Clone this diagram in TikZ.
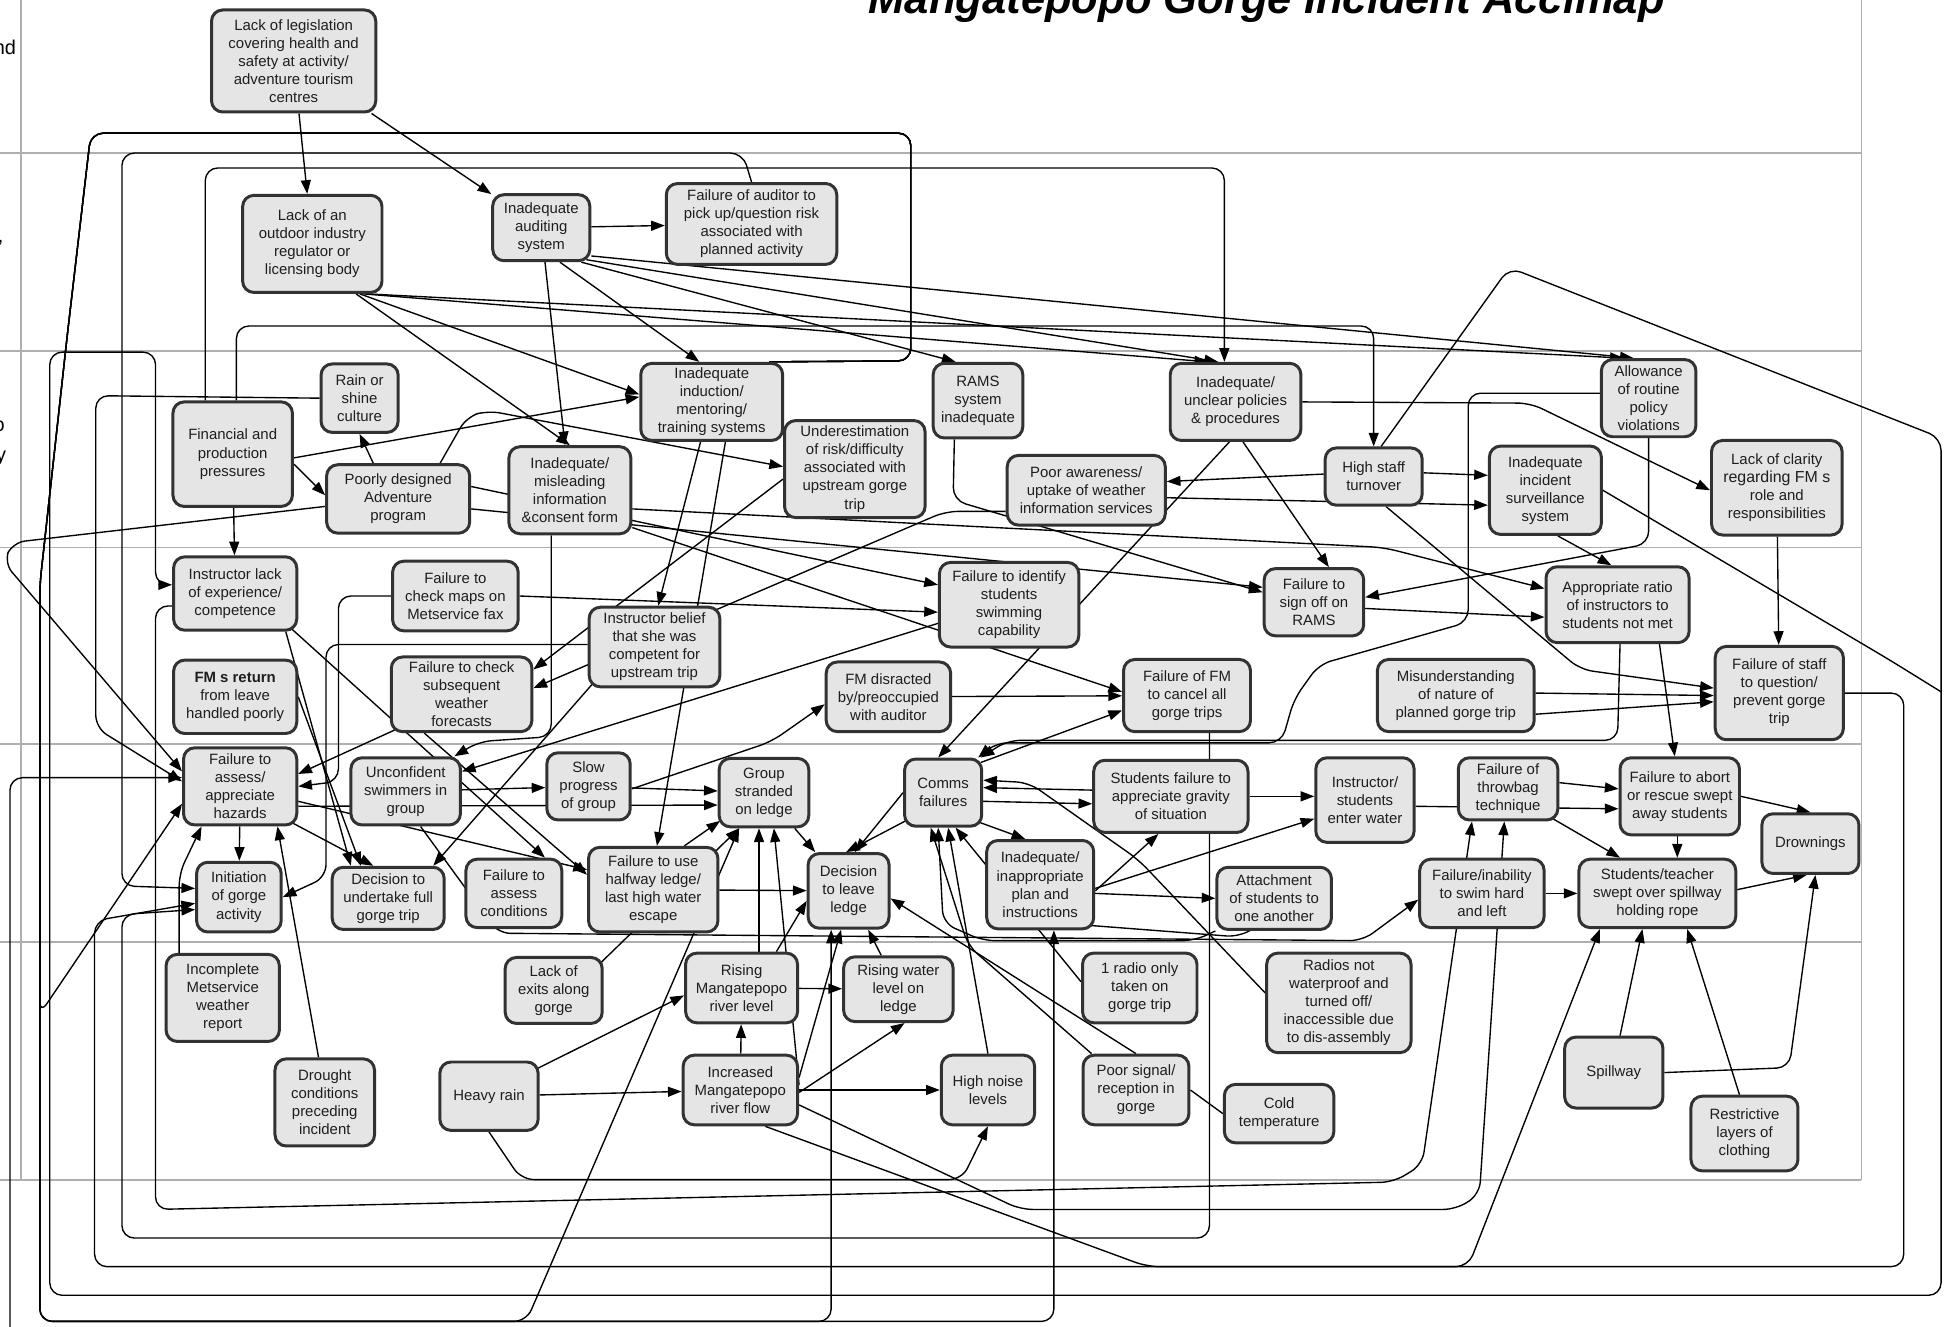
\documentclass[tikz,border=0pt]{standalone}
\usepackage{fontspec}
\setmainfont{Liberation Sans}
\usetikzlibrary{arrows.meta,calc}
\definecolor{boxline}{RGB}{50,50,50}
\definecolor{boxfill}{RGB}{229,229,229}
\definecolor{bandgray}{RGB}{175,175,175}
\definecolor{inktext}{RGB}{30,30,30}
\pgfdeclarelayer{edges}
\pgfsetlayers{edges,main}
\newcommand{\bnode}[6]{\node[box,minimum width=#4pt,minimum height=#5pt] (#1) at (#2,#3) {#6};}
\begin{document}
\begin{tikzpicture}[x=1pt,y=-1pt,
  box/.style={draw=boxline,line width=2.4pt,fill=boxfill,rounded corners=9pt,align=center,inner sep=2pt,text=inktext,font=\fontsize{12}{14.5}\selectfont},
  wire/.style={line width=1.1pt,rounded corners=10pt},
  arr/.style={wire,-{Triangle[length=11pt,width=8pt]}},
  band/.style={draw=bandgray,line width=1.5pt},
  levellabel/.style={anchor=base east,inner sep=0pt,font=\fontsize{16}{16}\selectfont}]
\useasboundingbox (0,0) rectangle (1568,1066);
\clip (0,0) rectangle (1568,1066);

% ---------- title and level labels (labels run off the left margin) ----------
\node[anchor=base,font=\fontsize{35}{35}\selectfont\bfseries\itshape] (title) at (1018,10.5) {Mangatepopo Gorge Incident Accimap};
\node[levellabel] (lab1) at (13,44) {and};
\node[levellabel] (lab2) at (3,195) {,};
\node[levellabel] (lab3) at (4,347) {o};
\node[levellabel] (lab4) at (5,371) {y};

% ---------- factors ----------
\bnode{L1}{236}{49}{132}{82}{Lack of legislation\\covering health and\\safety at activity/\\adventure tourism\\centres}
\bnode{regul}{251}{196}{112}{78}{Lack of an\\outdoor industry\\regulator or\\licensing body}
\bnode{audit}{435}{183}{78}{53}{Inadequate\\auditing\\system}
\bnode{failaud}{604}{180}{137}{65}{Failure of auditor to\\pick up/question risk\\associated with\\planned activity}
\bnode{rain}{289}{320}{62}{55}{Rain or\\shine\\culture}
\bnode{fin}{187}{365}{96}{84}{Financial and\\production\\pressures}
\bnode{induct}{572}{323}{114}{62}{Inadequate\\induction/\\mentoring/\\training systems}
\bnode{rams}{786}{322}{72}{60}{RAMS\\system\\inadequate}
\bnode{policies}{993}{323}{105}{62}{Inadequate/\\unclear policies\\\& procedures}
\bnode{allow}{1325}{320}{76}{62}{Allowance\\of routine\\policy\\violations}
\bnode{poorly}{320}{401}{115}{55}{Poorly designed\\Adventure\\program}
\bnode{misinfo}{458}{394}{98}{70}{Inadequate/\\misleading\\information\\\&consent form}
\bnode{underest}{687}{377}{113}{78}{Underestimation\\of risk/difficulty\\associated with\\upstream gorge\\trip}
\bnode{awareness}{873}{394}{127}{56}{Poor awareness/\\uptake of weather\\information services}
\bnode{turnover}{1104}{383}{78}{46}{High staff\\turnover}
\bnode{surv}{1242}{394}{90}{71}{Inadequate\\incident\\surveillance\\system}
\bnode{clarity}{1428}{392}{105}{76}{Lack of clarity\\{\fontsize{12.8}{14.5}\selectfont regarding FM s}\\role and\\responsibilities}
\bnode{instr}{189}{477}{99}{59}{Instructor lack\\of experience/\\competence}
\bnode{checkmaps}{366}{479}{101}{56}{Failure to\\check maps on\\Metservice fax}
\bnode{identify}{811}{486}{112}{68}{Failure to identify\\students\\swimming\\capability}
\bnode{signoff}{1056}{484}{80}{54}{Failure to\\sign off on\\RAMS}
\bnode{ratio}{1300}{486}{115}{61}{Appropriate ratio\\of instructors to\\students not met}
\bnode{belief}{526}{520}{105}{64}{Instructor belief\\that she was\\competent for\\upstream trip}
\bnode{fmreturn}{189}{560}{99}{59}{{\bfseries FM s return}\\from leave\\handled poorly}
\bnode{checksub}{371}{558}{113}{60}{Failure to check\\subsequent\\weather\\forecasts}
\bnode{distract}{714}{560}{100}{56}{FM disracted\\by/preoccupied\\with auditor}
\bnode{cancel}{954}{559}{102}{58}{Failure of FM\\to cancel all\\gorge trips}
\bnode{misunder}{1170}{559}{126}{58}{Misunderstanding\\of nature of\\planned gorge trip}
\bnode{question}{1430}{557}{103}{75}{Failure of staff\\to question/\\prevent gorge\\trip}
\bnode{assess}{193}{632}{91}{62}{Failure to\\assess/\\appreciate\\hazards}
\bnode{unconf}{326}{636}{88}{54}{Unconfident\\swimmers in\\group}
\bnode{slow}{473}{632}{67}{54}{Slow\\progress\\of group}
\bnode{stranded}{614}{637}{72}{55}{Group\\stranded\\on ledge}
\bnode{comms}{758}{637}{62}{54}{Comms\\failures}
\bnode{gravity}{941}{640}{124}{58}{Students failure to\\appreciate gravity\\of situation}
\bnode{enter}{1097}{643}{79}{68}{Instructor/\\students\\enter water}
\bnode{throwbag}{1212}{634}{80}{50}{Failure of\\throwbag\\technique}
\bnode{abort}{1350}{640}{96}{62}{Failure to abort\\or rescue swept\\away students}
\bnode{drown}{1455}{678}{78}{48}{Drownings}
\bnode{initiation}{192}{721}{68}{56}{Initiation\\of gorge\\activity}
\bnode{decfull}{312}{722}{90}{50}{Decision to\\undertake full\\gorge trip}
\bnode{assesscond}{413}{718}{77}{55}{Failure to\\assess\\conditions}
\bnode{halfway}{525}{715}{104}{68}{Failure to use\\halfway ledge/\\last high water\\escape}
\bnode{leave}{682}{716}{65}{60}{Decision\\to leave\\ledge}
\bnode{inapp}{836}{711}{86}{71}{Inadequate/\\inappropriate\\plan and\\instructions}
\bnode{attach}{1024}{722}{92}{50}{Attachment\\of students to\\one another}
\bnode{swimhard}{1191}{718}{100}{55}{Failure/inability\\to swim hard\\and left}
\bnode{swept}{1332}{718}{126}{55}{Students/teacher\\swept over spillway\\holding rope}
\bnode{metrep}{179}{802}{91}{70}{Incomplete\\Metservice\\weather\\report}
\bnode{drought}{261}{886}{80}{70}{Drought\\conditions\\preceding\\incident}
\bnode{exits}{445}{796}{78}{53}{Lack of\\exits along\\gorge}
\bnode{risingriver}{596}{794}{90}{56}{Rising\\Mangatepopo\\river level}
\bnode{risingledge}{722}{795}{88}{52}{Rising water\\level on\\ledge}
\bnode{radio1}{916}{794}{92}{56}{1 radio only\\taken on\\gorge trip}
\bnode{radiosnot}{1076}{806}{116}{80}{Radios not\\waterproof and\\turned off/\\inaccessible due\\to dis-assembly}
\bnode{heavy}{393}{881}{79}{55}{Heavy rain}
\bnode{increased}{595}{876}{92}{56}{Increased\\Mangatepopo\\river flow}
\bnode{noise}{794}{876}{75}{56}{High noise\\levels}
\bnode{poorsignal}{913}{876}{85}{56}{Poor signal/\\reception in\\gorge}
\bnode{cold}{1028}{895}{88}{47}{Cold\\temperature}
\bnode{spillway}{1297}{862}{79}{57}{Spillway}
\bnode{restrict}{1402}{911}{86}{60}{Restrictive\\layers of\\clothing}

\coordinate (offbottom) at (8,1090);
\coordinate (survjoin) at (1560,556);

\begin{pgfonlayer}{edges}
% ---------- level bands ----------
\foreach \yy in {123,282,440,598,757,948} \draw[band] (0,\yy) -- (1496,\yy);
\draw[band] (17,0) -- (17,948);
\draw[band] (1496,0) -- (1496,948);

% ---------- government / regulators ----------
\draw[arr] (L1) -- (regul);
\draw[arr] (L1) -- (audit);
\draw[arr] (audit) -- (failaud);
\draw[arr] (audit) -- (misinfo);
\draw[arr] ($(audit.south)+(15,0)$) -- ($(induct.north)+(-10,0)$);
\draw[arr] ($(audit.south east)+(-8,0)$) -- ($(rams.north)+(-18,0)$);
\draw[arr] ($(audit.south east)+(-4,-2)$) -- ($(policies.north)+(-14,0)$);
\draw[arr] ($(audit.south east)+(0,-5)$) -- ($(allow.north)+(-12,0)$);
\draw[arr] ($(regul.south east)+(-22,0)$) -- (misinfo.north);
\draw[arr] ($(regul.south east)+(-19,0)$) -- ($(induct.west)+(0,-6)$);
\draw[arr] ($(regul.south east)+(-16,0)$) -- ($(policies.north)+(-22,0)$);
\draw[arr] ($(regul.south east)+(-13,0)$) -- ($(allow.north)+(-20,0)$);

% ---------- company ----------
\draw[arr] ($(fin.north)+(-22,0)$) -- (165,135) -- (984,135) -- ($(policies.north)+(-9,0)$);
\draw[arr] ($(fin.north)+(3,0)$) -- (190,262) -- (1104,262) -- (turnover.north);
\draw[arr] ($(fin.east)+(0,3)$) -- ($(induct.west)+(0,-4)$);
\draw[arr] ($(fin.east)+(0,8)$) -- ($(poorly.west)+(0,-3)$);
\draw[arr] (fin) -- (instr);
\draw[arr] ($(poorly.north)+(-20,0)$) -- (rain.south);
\draw[arr] ($(poorly.north east)+(-25,0)$) -- (375,335) -- (392,330) -- ($(underest.west)+(0,-2)$);
\draw[arr] ($(poorly.east)+(0,-10)$) -- ($(identify.west)+(0,-16)$);
\draw[arr] ($(poorly.east)+(0,8)$) -- ($(signoff.west)+(0,-12)$);
\draw[arr] ($(poorly.west)+(0,6)$) -- (10,436) -- (3,452) -- ($(assess.west)+(0,-12)$);
\draw[arr] ($(misinfo.east)+(0,30)$) -- ($(cancel.west)+(0,-3)$);
\draw[arr] ($(misinfo.east)+(0,15)$) -- (1112,440) -- ($(ratio.west)+(0,-13)$);
\draw[arr] ($(misinfo.south)+(-15,0)$) -- (443,592) -- (385,596) -- ($(unconf.north east)+(-6,0)$);
\draw[arr] (rain.west) -- (77,318) -- (77,585) -- ($(assess.west)+(0,-4)$);
\draw[arr] ($(rams.south)+(-19,0)$) -- (766,402) -- ($(signoff.west)+(0,-8)$);
\draw[arr] ($(policies.south)+(6,0)$) -- ($(signoff.north)+(12,0)$);
\draw[arr] (policies.east) -- (1230,324) -- ($(clarity.west)+(0,2)$);
\draw[arr] ($(policies.south)+(-5,0)$) -- ($(comms.north)+(-4,0)$);
\draw[arr] (allow.south) -- (1325,437) -- ($(signoff.east)+(0,-4)$);
\draw[arr] ($(allow.west)+(0,-4)$) -- (1180,316) -- (1180,500) -- (1060,534) -- (1040,562) -- (1030,597) -- (800,597) -- ($(comms.north east)+(-4,0)$);
\draw[arr] ($(turnover.east)+(0,-3)$) -- ($(surv.west)+(0,-12)$);
\draw[arr] ($(turnover.west)+(0,-2)$) -- ($(awareness.east)+(0,-7)$);
\draw[arr] ($(awareness.east)+(0,6)$) -- ($(surv.west)+(0,12)$);
\draw[arr] ($(turnover.south)+(10,0)$) -- (1270,538) -- ($(question.west)+(0,-4)$);
\draw[arr] ($(turnover.north)+(6,0)$) -- (1213,215) -- (1560,352) -- (1560,1041) -- (40,1041) -- (40,283) -- (125,283) -- (125,470) -- ($(instr.west)+(0,-7)$);
\draw[wire] (surv.east) -- (1518,530) -- (survjoin);
\draw[arr] ($(surv.south)+(10,0)$) -- ($(ratio.north)+(-5,0)$);
\draw[arr] (clarity) -- (question);
\draw[arr] ($(misunder.east)+(0,-2)$) -- ($(question.west)+(0,2)$);
\draw[arr] ($(misunder.east)+(0,15)$) -- ($(question.west)+(0,7)$);
\draw[arr] ($(signoff.east)+(0,5)$) -- ($(ratio.west)+(0,10)$);
\draw[arr] ($(ratio.south)+(2,0)$) -- (1300,595) -- (810,595) -- ($(comms.north east)+(-2,0)$);
\draw[arr] ($(ratio.south east)+(-25,0)$) -- ($(abort.north)+(-4,0)$);
\draw[arr] (question.east) -- (1530,557) -- (1530,1018) -- (76,1018) -- (76,740) -- ($(initiation.west)+(0,5)$);

% ---------- supervisory ----------
\draw[arr] (failaud.north) -- (597,123) -- (98,123) -- (98,712) -- ($(initiation.west)+(0,-7)$);
\draw[arr] ($(cancel.south)+(18,0)$) -- (972,995) -- (98,995) -- (98,735) -- ($(initiation.west)+(0,10)$);
\draw[arr] (checkmaps.east) -- ($(identify.west)+(0,6)$);
\draw[arr] (checkmaps.west) -- (272,479) -- (272,628) -- (assess.east);
\draw[arr] ($(belief.west)+(0,-2)$) -- (262,518) -- (262,705) -- (initiation.east);
\draw[arr] ($(belief.south west)+(6,-6)$) -- ($(decfull.north east)+(-10,0)$);
\draw[arr] ($(induct.south)+(-9,0)$) -- ($(belief.north)+(3,0)$);
\draw[arr] ($(induct.south)+(11,0)$) -- ($(halfway.north)+(3,0)$);
\draw[arr] ($(underest.west)+(0,8)$) -- ($(checksub.east)+(0,-20)$);
\draw[arr] ($(awareness.west)+(0,17)$) -- (760,411) -- ($(checksub.east)+(0,-5)$);
\draw[arr] ($(identify.west)+(0,15)$) -- ($(unconf.east)+(0,-16)$);
\draw[arr] ($(checksub.south west)+(5,-3)$) -- ($(assess.east)+(0,-10)$);
\draw[arr] ($(checksub.south)+(-30,0)$) -- ($(halfway.west)+(0,-12)$);
\draw[arr] ($(instr.south east)+(-5,-2)$) -- ($(assesscond.north)+(25,0)$);
\draw[arr] ($(instr.south east)+(-10,0)$) -- ($(decfull.north)+(-30,0)$);
\draw[arr] (fmreturn.east) -- ($(decfull.north)+(-22,0)$);
\draw[arr] (distract) -- (cancel);
\draw[arr] ($(slow.east)+(0,2)$) -- (620,596) -- ($(distract.west)+(0,6)$);
\draw[arr] ($(comms.north east)+(-2,4)$) -- ($(cancel.west)+(0,12)$);

% ---------- physical process ----------
\draw[arr] (assess) -- (initiation);
\draw[arr] ($(assess.south east)+(-5,-3)$) -- ($(decfull.north)+(-12,0)$);
\draw[arr] ($(assess.east)+(0,12)$) -- ($(halfway.west)+(0,-16)$);
\draw[arr] ($(assess.east)+(0,16)$) -- ($(stranded.west)+(0,10)$);
\draw[arr] (unconf) -- (slow);
\draw[arr] (slow) -- (stranded);
\draw[arr] ($(halfway.north)+(25,0)$) -- ($(stranded.south west)+(2,-6)$);
\draw[arr] (halfway) -- (leave);
\draw[arr] (stranded) -- (leave);
\draw[arr] ($(comms.south west)+(3,-6)$) -- ($(leave.north)+(-2,0)$);
\draw[arr] (comms.west) -- ($(leave.north)+(5,0)$);
\draw[arr] ($(gravity.west)+(0,-5)$) -- ($(comms.east)+(0,-4)$);
\draw[arr] ($(comms.east)+(0,7)$) -- ($(gravity.west)+(0,6)$);
\draw[arr] ($(comms.south east)+(-5,-5)$) -- ($(inapp.north)+(-12,0)$);
\draw[arr] ($(inapp.east)+(0,5)$) -- ($(gravity.south)+(-10,0)$);
\draw[arr] ($(inapp.east)+(0,7)$) -- (attach.west);
\draw[arr] ($(inapp.east)+(0,3)$) -- ($(enter.west)+(0,15)$);
\draw[arr] (gravity.east) -- ($(enter.west)+(0,-3)$);
\draw[arr] ($(enter.east)+(0,5)$) -- ($(abort.west)+(0,10)$);
\draw[arr] ($(throwbag.east)+(0,-5)$) -- ($(abort.west)+(0,-6)$);
\draw[arr] ($(throwbag.south east)+(-10,-5)$) -- ($(swept.north)+(-30,0)$);
\draw[arr] ($(abort.south)+(-2,0)$) -- ($(swept.north)+(16,0)$);
\draw[arr] (abort.east) -- (drown.north);
\draw[arr] ($(swept.east)+(0,-3)$) -- ($(drown.south)+(-3,0)$);
\draw[arr] (swimhard) -- (swept);
\draw[arr] ($(unconf.south)+(12,0)$) -- (375,715) -- (400,750) -- (1095,756) -- ($(swimhard.west)+(0,5)$);
\draw[arr] (attach.south west) -- (960,756) -- (790,756) -- (758,742) -- ($(comms.south)+(-4,0)$);
\draw[arr] ($(inapp.south east)+(-5,-4)$) -- (996,753) -- ($(attach.south)+(-20,0)$);
\draw[arr] ($(radiosnot.west)+(0,-8)$) -- (915,691) -- (827,629) -- ($(comms.east)+(0,-10)$);
\draw[arr] (noise.north) -- ($(comms.south)+(4,0)$);
\draw[arr] ($(radio1.west)+(0,-5)$) -- ($(comms.south)+(10,0)$);
\draw[arr] ($(poorsignal.north west)+(8,0)$) -- (778,760) -- ($(comms.south)+(-10,0)$);
\draw[arr] (poorsignal.north) -- ($(leave.east)+(0,6)$);
\draw[wire] (cold.west) -- (poorsignal.east);
\draw[arr] ($(spillway.north)+(5,0)$) -- ($(swept.south)+(-12,0)$);
\draw[arr] ($(restrict.north)+(-4,0)$) -- ($(swept.south)+(24,0)$);
\draw[arr] (spillway.east) -- (1438,858) -- ($(drown.south)+(4,0)$);

% ---------- environment ----------
\draw[arr] (heavy) -- (increased);
\draw[arr] ($(heavy.north east)+(-5,8)$) -- ($(risingriver.west)+(0,6)$);
\draw[arr] (heavy.south) -- (419,948) -- (773,948) -- (noise.south);
\draw[arr] (increased) -- (risingriver);
\draw[arr] ($(increased.east)+(0,2)$) -- ($(risingledge.south)+(5,0)$);
\draw[arr] (increased) -- (noise);
\draw[arr] ($(increased.east)+(0,-4)$) -- ($(stranded.south)+(8,0)$);
\draw[arr] ($(increased.east)+(0,-10)$) -- ($(leave.south)+(-6,0)$);
\draw[arr] ($(increased.south)+(20,0)$) -- (922,1018) -- (1180,1018) -- ($(swept.south west)+(18,0)$);
\draw[arr] ($(increased.east)+(0,12)$) -- (820,972) -- (1170,972) -- (1189,960) -- ($(throwbag.south)+(-3,0)$);
\draw[arr] ($(instr.west)+(0,10)$) -- (125,487) -- (125,972) -- (1120,950) -- (1143,936) -- ($(throwbag.south)+(-29,0)$);
\draw[arr] ($(risingriver.north)+(14,0)$) -- ($(stranded.south)+(-4,0)$);
\draw[arr] ($(risingriver.north)+(28,0)$) -- ($(leave.west)+(0,8)$);
\draw[arr] (risingriver) -- (risingledge);
\draw[arr] (risingledge) -- (leave);
\draw[arr] ($(exits.north east)+(-5,8)$) -- ($(stranded.south)+(-20,0)$);
\draw[arr] ($(metrep.north)+(-35,0)$) -- (144,702) -- ($(assess.south)+(-31,0)$);
\draw[arr] ($(drought.north)+(-5,0)$) -- ($(assess.south)+(30,0)$);
\draw[arr] (offbottom) -- (8,625) -- ($(assess.west)+(0,-7)$);

% ---------- long loop round the left and bottom ----------
\draw[arr] ($(induct.north east)+(-12,0)$) -- (732,290) -- (732,107) -- (73,107) -- (54,270) -- (32,470) -- (32,1062) -- (423,1062) -- ($(stranded.south)+(-20,0)$);
\draw[arr] ($(induct.north east)+(-12,0)$) -- (732,290) -- (732,107) -- (73,107) -- (54,270) -- (32,470) -- (32,1062) -- (668,1062) -- ($(leave.south)+(-14,0)$);
\draw[arr] ($(induct.north east)+(-12,0)$) -- (732,290) -- (732,107) -- (73,107) -- (54,270) -- (32,470) -- (32,1062) -- (847,1062) -- ($(inapp.south)+(11,0)$);
\draw[arr] ($(induct.north east)+(-12,0)$) -- (732,290) -- (732,107) -- (73,107) -- (54,270) -- (32,470) -- (32,815) -- ($(assess.west)+(0,14)$);
\end{pgfonlayer}
\end{tikzpicture}
\end{document}
